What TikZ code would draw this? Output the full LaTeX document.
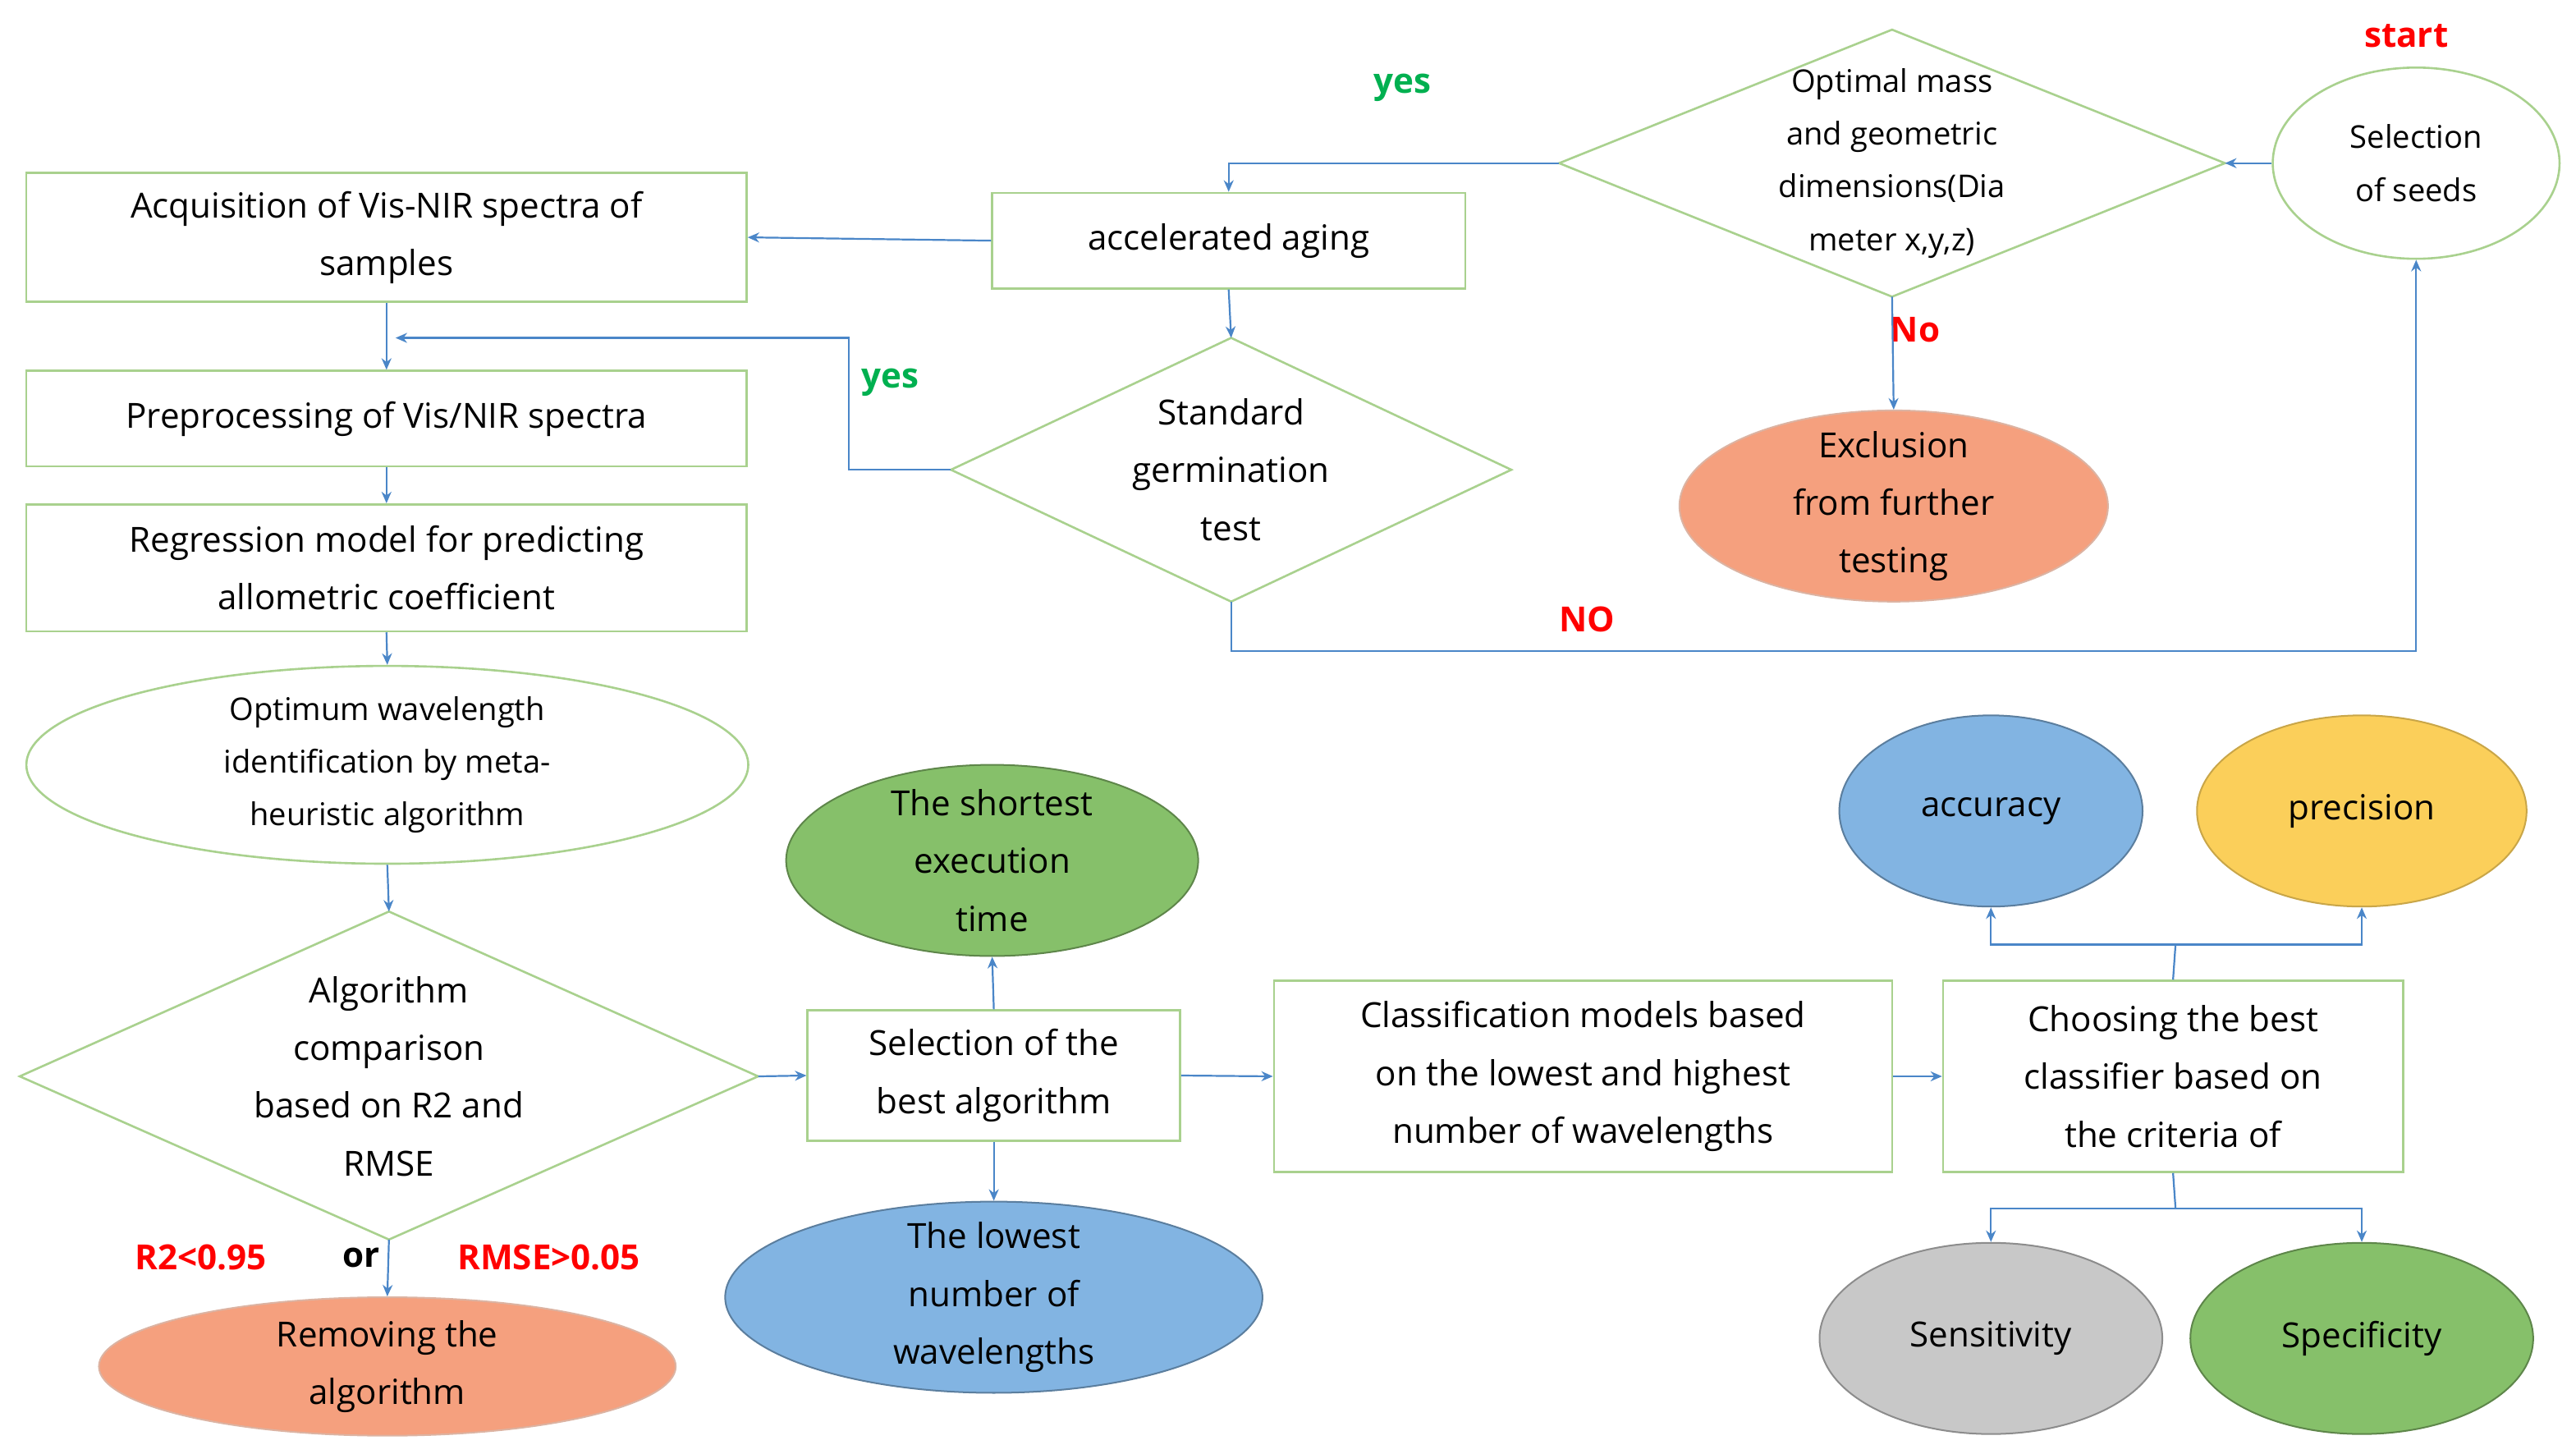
\documentclass[tikz,border=0pt]{standalone}
\usepackage{fontspec}
\setmainfont{Open Sans}
\usetikzlibrary{shapes.geometric,arrows.meta}
\definecolor{lg}{HTML}{A9D18E}
\definecolor{ln}{HTML}{4A86C8}
\definecolor{oran}{HTML}{F5A07E}
\definecolor{gre}{HTML}{86C06A}
\definecolor{blu}{HTML}{82B4E2}
\definecolor{yel}{HTML}{FBCF5A}
\definecolor{gry}{HTML}{C8C8C8}
\begin{document}
\begin{tikzpicture}[x=1pt,y=-1pt,
 every node/.style={font=\fontsize{21}{35}\selectfont,align=center,inner sep=0},
 box/.style={draw=lg,line width=1.3pt,rectangle},
 dl/.style={draw=lg,line width=1.3pt},
 ell/.style={ellipse,line width=1pt},
 ar/.style={draw=ln,line width=1.1pt,-{Stealth[length=7pt,width=6pt]}},
 ln/.style={draw=ln,line width=1.1pt},
 red/.style={text=red,font=\fontsize{21}{25}\selectfont\bfseries},
 grn/.style={text={rgb,255:red,0;green,176;blue,80},font=\fontsize{21}{25}\selectfont\bfseries}]
\useasboundingbox (0,0) rectangle (1563,882);
% boxes
\node[box,minimum width=437,minimum height=78] (A) at (234.5,144) {Acquisition of Vis-NIR spectra of\\samples};
\node[box,minimum width=287,minimum height=58] (ag) at (745.5,146) {accelerated aging};
\node[box,minimum width=437,minimum height=58] (P) at (234.5,254) {Preprocessing of Vis/NIR spectra};
\node[box,minimum width=437,minimum height=77] (R) at (234.5,344.5) {Regression model for predicting\\allometric coefficient};
\node[box,minimum width=226,minimum height=79] (S) at (603,652.5) {Selection of the\\best algorithm};
\node[box,minimum width=375,minimum height=116] (C) at (960.5,653) {Classification models based\\on the lowest and highest\\number of wavelengths};
\node[box,minimum width=279,minimum height=116] (Ch) at (1318.5,653) {Choosing the best\\classifier based on\\the criteria of};
% diamonds (drawn as polygons)
\coordinate (On) at (1148,18); \coordinate (Oe) at (1350,99); \coordinate (Os) at (1148,180); \coordinate (Ow) at (946,99);
\draw[dl] (On) -- (Oe) -- (Os) -- (Ow) -- cycle;
\node[font=\fontsize{19}{32}\selectfont] (O) at (1148,99) {Optimal mass\\and geometric\\dimensions(Dia\\meter x,y,z)};
\coordinate (Gn) at (747,205); \coordinate (Ge) at (917,285); \coordinate (Gs) at (747,365); \coordinate (Gw) at (577,285);
\draw[dl] (Gn) -- (Ge) -- (Gs) -- (Gw) -- cycle;
\node (G) at (747,285) {Standard\\germination\\test};
\coordinate (Dn) at (236,553); \coordinate (De) at (460,653); \coordinate (Ds) at (236,752); \coordinate (Dw) at (12,653);
\draw[dl] (Dn) -- (De) -- (Ds) -- (Dw) -- cycle;
\node (D) at (236,653) {Algorithm\\comparison\\based on R2 and\\RMSE};
% ellipses
\node[ell,draw=lg,line width=1.3pt,minimum width=174,minimum height=116,font=\fontsize{19}{32}\selectfont] (seed) at (1466,99) {Selection\\of seeds};
\node[ell,draw=lg,line width=1.3pt,minimum width=438,minimum height=120,inner sep=-20pt,font=\fontsize{19}{32}\selectfont] (W) at (235,464) {Optimum wavelength\\identification by meta-\\heuristic algorithm};
\node[ell,draw=oran!80!black!60,fill=oran,minimum width=260,minimum height=116,inner sep=-10pt] (E) at (1149,307) {Exclusion\\from further\\testing};
\node[ell,draw=oran!80!black!60,fill=oran,minimum width=350,minimum height=84,inner sep=-10pt] (Rm) at (235,829) {Removing the\\algorithm};
\node[ell,draw=gre!70!black,fill=gre,minimum width=250,minimum height=116,inner sep=-10pt] (T) at (602,522) {The shortest\\execution\\time};
\node[ell,draw=blu!70!black,fill=blu,minimum width=326,minimum height=116,inner sep=-10pt] (L) at (603,787) {The lowest\\number of\\wavelengths};
\node[ell,draw=blu!70!black,fill=blu,minimum width=184,minimum height=116] (acc) at (1208,492) {accuracy};
\node[ell,draw=yel!80!black,fill=yel,minimum width=200,minimum height=116] (pre) at (1433,492) {precision};
\node[ell,draw=gry!70!black,fill=gry,minimum width=208,minimum height=116] (sen) at (1208,812) {Sensitivity};
\node[ell,draw=gre!70!black,fill=gre,minimum width=208,minimum height=116] (spe) at (1433,812) {Specificity};
% labels
\node[red] at (1460,22) {start};
\node[grn] at (851,53) {yes};
\node[red] at (1162,200) {No};
\node[grn] at (540,232) {yes};
\node[red] at (963,376) {NO};
\node[red] at (122,763) {R2<0.95};
\node[font=\fontsize{21}{25}\selectfont\bfseries] at (219,763) {or};
\node[red] at (333,763) {RMSE>0.05};
% connectors
\coordinate (j1) at (1320,573);
\coordinate (j2) at (1320,733);
\coordinate (k1) at (515,205);
\coordinate (k2) at (240,205);
\coordinate (k3) at (1466,395);
\draw[ar] (seed.west) -- (Oe);
\draw[ar] (Ow) -| (ag.north);
\draw[ar] (Os) -- (E.north);
\draw[ar] (ag.west) -- (A.east);
\draw[ar] (ag.south) -- (Gn);
\draw[ar] (Gw) -| (k1) -- (k2);
\draw[ar] (A.south) -- (P.north);
\draw[ar] (Gs) |- (k3) -- (seed.south);
\draw[ar] (P.south) -- (R.north);
\draw[ar] (R.south) -- (W.north);
\draw[ar] (W.south) -- (Dn);
\draw[ar] (De) -- (S.west);
\draw[ar] (Ds) -- (Rm.north);
\draw[ar] (S.north) -- (T.south);
\draw[ar] (S.south) -- (L.north);
\draw[ar] (S.east) -- (C.west);
\draw[ar] (C.east) -- (Ch.west);
\draw[ln] (Ch.north) -- (j1);
\draw[ar] (j1) -| (acc.south);
\draw[ar] (j1) -| (pre.south);
\draw[ln] (Ch.south) -- (j2);
\draw[ar] (j2) -| (sen.north);
\draw[ar] (j2) -| (spe.north);
\end{tikzpicture}
\end{document}
